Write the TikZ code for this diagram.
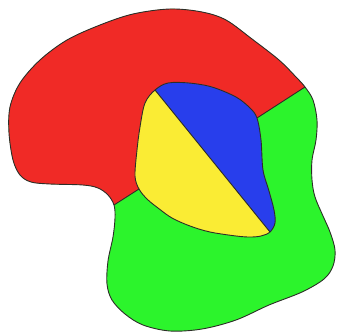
\documentclass[tikz,border=0pt]{standalone}
\definecolor{mapred}{RGB}{240,42,38}
\definecolor{mapgreen}{RGB}{44,244,44}
\definecolor{mapblue}{RGB}{40,62,236}
\definecolor{mapyellow}{RGB}{250,236,52}
\definecolor{edge}{RGB}{45,45,40}
\tikzset{border/.style={draw=edge,line width=0.9pt,line join=round}}
\newcommand{\outerpath}{plot[smooth cycle,tension=0.55] coordinates {(170,9) (202,12) (226,20) (252,39) (279,60) (296,77) (305,87) (313,100) (317,120) (316,140) (312,160) (312,180) (315,197) (323,216) (330,232) (335,250) (333,266) (324,279) (302,292) (269,305) (236,320) (202,329) (170,331) (143,325) (125,314) (112,300) (107,284) (108,261) (113,237) (115,218) (114,205) (108,195) (98,188) (83,185) (50,184) (31,182) (20,175) (13,160) (9,133) (10,107) (20,83) (40,60) (67,40) (100,25) (133,14)}}
\newcommand{\ovalpath}{plot[smooth cycle,tension=0.55] coordinates {(155,90) (168,83) (189,83) (212,87) (236,97) (250,108) (257,118) (261,140) (263,170) (269,191) (274,210) (275,223) (270,232) (261,236) (250,237) (236,236) (210,232) (190,226) (172,218) (158,208) (147,199) (139,189) (135,176) (137,150) (140,127) (145,103)}}
\begin{document}
\begin{tikzpicture}[x=1pt,y=-1pt]
\useasboundingbox (0,0) rectangle (339,334);
\coordinate (L) at (114,205);
\coordinate (Y1) at (139,189);
\coordinate (Q) at (257,118);
\coordinate (R) at (305,87);
\coordinate (P) at (155,90);
\coordinate (T) at (270,232);
% green base
\fill[mapgreen] \outerpath;
% red region
\begin{scope}
\clip \outerpath;
\fill[mapred] (0,205) -- (L) -- (Y1) -- (200,150) -- (Q) -- (R) -- (339,64) -- (339,0) -- (0,0) -- cycle;
\end{scope}
% oval
\fill[mapyellow] \ovalpath;
\begin{scope}
\clip \ovalpath;
\fill[mapblue] (P) -- (T) -- (339,334) -- (339,0) -- (155,0) -- cycle;
\end{scope}
% borders
\draw[border] (L) -- (Y1);
\draw[border] (Q) -- (R);
\draw[border] (P) -- (T);
\draw[border] \ovalpath;
\draw[border] \outerpath;
\end{tikzpicture}
\end{document}
